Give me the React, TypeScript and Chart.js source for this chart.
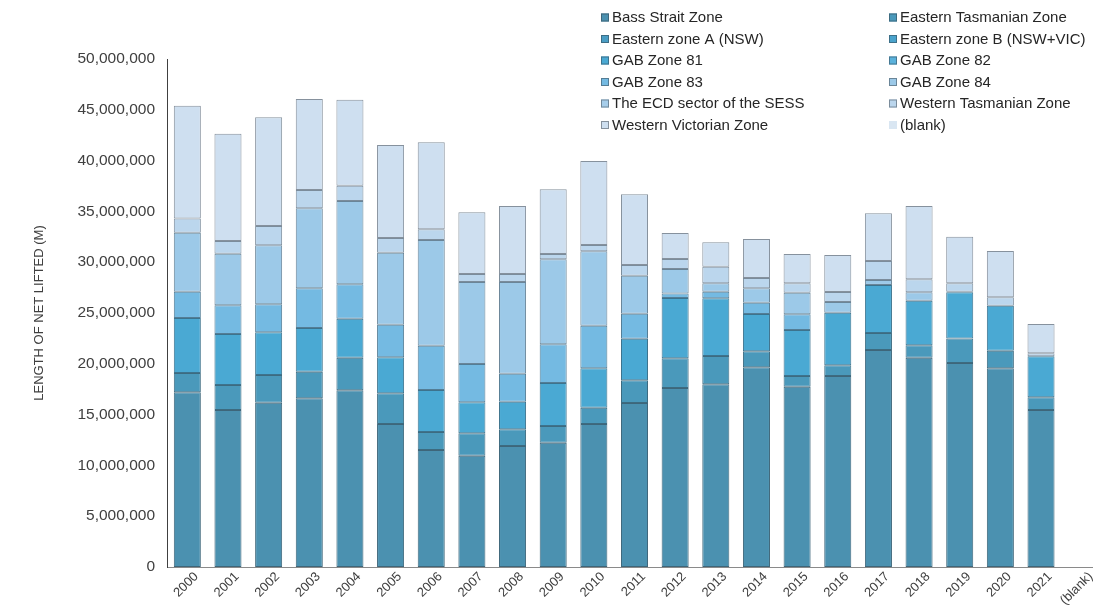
import React, { useEffect, useRef } from "react";
import { Chart, registerables } from "chart.js";

Chart.register(...registerables);

// Fishing years along the category axis
const years = [
  "2000", "2001", "2002", "2003", "2004", "2005", "2006", "2007", "2008", "2009", "2010",
  "2011", "2012", "2013", "2014", "2015", "2016", "2017", "2018", "2019", "2020", "2021", "(blank)",
];

// Length of net lifted (m) per zone and year
const bassStrait = [
  17200000, 15450000, 16170000, 16600000, 17390000, 14070000, 11520000, 10960000, 11910000, 12240000, 14070000,
  16140000, 17620000, 17980000, 19650000, 17750000, 18800000, 21360000, 20600000, 20080000, 19550000, 15450000, null,
];
const easternTasmanian = [
  1900000, 2460000, 2730000, 2620000, 3210000, 3030000, 1770000, 2200000, 1640000, 1640000, 1610000,
  2230000, 2920000, 2790000, 1580000, 1050000, 1050000, 1670000, 1220000, 2420000, 1740000, 1250000, null,
];
const easternZoneA = [
  0, 0, 0, 0, 0, 0, 0, 0, 0, 0, 0, 0, 0, 0, 0, 0, 0, 0, 0, 0, 0, 0, null,
];
const easternZoneB = [
  0, 0, 0, 0, 0, 0, 0, 0, 0, 0, 0, 0, 0, 0, 0, 0, 0, 0, 0, 0, 0, 0, null,
];
const gabZone81 = [
  5400000, 5020000, 4200000, 4300000, 3840000, 3540000, 4130000, 3050000, 2720000, 4230000, 3870000,
  4100000, 5940000, 5670000, 3670000, 4530000, 5180000, 4730000, 4390000, 4540000, 4430000, 4040000, null,
];
const gabZone82 = [
  0, 0, 0, 0, 0, 0, 0, 0, 0, 0, 0, 0, 0, 0, 0, 0, 0, 0, 0, 0, 0, 0, null,
];
const gabZone83 = [
  2600000, 2830000, 2750000, 3910000, 3380000, 3210000, 4360000, 3770000, 2760000, 3810000, 4200000,
  2460000, 450000, 660000, 1120000, 1540000, 0, 0, 0, 0, 0, 0, null,
];
const gabZone84 = [
  5800000, 5080000, 5810000, 7870000, 8200000, 7090000, 10410000, 8070000, 9020000, 8360000, 7320000,
  3740000, 2400000, 820000, 1410000, 2130000, 1050000, 490000, 830000, 60000, 0, 0, null,
];
const ecdSector = [
  0, 0, 0, 0, 0, 0, 0, 0, 0, 0, 0, 0, 0, 0, 0, 0, 0, 0, 0, 0, 0, 0, null,
];
const westernTasmanian = [
  1400000, 1250000, 1900000, 1800000, 1510000, 1440000, 1050000, 790000, 790000, 530000, 620000,
  1050000, 980000, 1640000, 1010000, 920000, 990000, 1870000, 1270000, 820000, 820000, 290000, null,
];
const westernVictorian = [
  11100000, 10560000, 10700000, 8960000, 8470000, 9160000, 8560000, 6070000, 6690000, 6360000, 8270000,
  6960000, 2560000, 2400000, 3840000, 2890000, 3640000, 4690000, 7220000, 4590000, 4560000, 2890000, null,
];
const blankZone = [
  null, null, null, null, null, null, null, null, null, null, null, null,
  null, null, null, null, null, null, null, null, null, null, null,
];

const zoneNames = [
  "Bass Strait Zone",
  "Eastern Tasmanian Zone",
  "Eastern zone A (NSW)",
  "Eastern zone B (NSW+VIC)",
  "GAB Zone 81",
  "GAB Zone 82",
  "GAB Zone 83",
  "GAB Zone 84",
  "The ECD sector of the SESS",
  "Western Tasmanian Zone",
  "Western Victorian Zone",
  "(blank)",
];
const zoneValues = [
  bassStrait, easternTasmanian, easternZoneA, easternZoneB, gabZone81, gabZone82,
  gabZone83, gabZone84, ecdSector, westernTasmanian, westernVictorian, blankZone,
];
const zoneColors = [
  "#4b91b0", "#4a99bb", "#4a9dc4", "#4aa3cc", "#4aa9d3", "#5bb2dc",
  "#74bae2", "#9cc9e8", "#a6cdea", "#bbd6ed", "#cedff0", "#d9e6f2",
];

const FONT = "'Liberation Sans', Arial, sans-serif";

// Outline colour: the fill blended towards a dark slate grey
function edgeOf(hex: string, amount = 0.45): string {
  const n = parseInt(hex.slice(1), 16);
  const rgb = [(n >> 16) & 255, (n >> 8) & 255, n & 255];
  const dark = [45, 50, 55];
  const mixed = rgb.map((c, k) => Math.round(c * (1 - amount) + dark[k] * amount));
  return `rgb(${mixed[0]},${mixed[1]},${mixed[2]})`;
}

// Two-column legend drawn in the top-right corner
const zoneLegend = {
  id: "zoneLegend",
  afterDraw(chart: any) {
    const ctx = chart.ctx as CanvasRenderingContext2D;
    ctx.save();
    ctx.font = `15px ${FONT}`;
    ctx.textBaseline = "middle";
    ctx.textAlign = "left";
    chart.data.datasets.forEach((ds: any, i: number) => {
      const col = i % 2;
      const row = Math.floor(i / 2);
      const x = col === 0 ? 601 : 889;
      const y = 17.5 + row * 21.5;
      ctx.fillStyle = ds.backgroundColor;
      ctx.fillRect(x, y - 4, 8, 8);
      if (ds.label !== "(blank)") {
        ctx.strokeStyle = ds.borderColor;
        ctx.lineWidth = 1;
        ctx.strokeRect(x + 0.5, y - 3.5, 7, 7);
      }
      ctx.fillStyle = "#262626";
      ctx.fillText(ds.label, x + 11, y + 0.5);
    });
    ctx.restore();
  },
};

export default function App() {
  const canvasRef = useRef<HTMLCanvasElement | null>(null);

  useEffect(() => {
    if (!canvasRef.current) return;
    const chart = new Chart(canvasRef.current, {
      type: "bar",
      data: {
        labels: years,
        datasets: zoneNames.map((name, i) => ({
          label: name,
          data: zoneValues[i],
          backgroundColor: zoneColors[i],
          borderColor: edgeOf(zoneColors[i]),
          borderWidth: 1,
          borderSkipped: false,
          barPercentage: 0.665,
          categoryPercentage: 1,
        })),
      },
      options: {
        animation: false,
        responsive: true,
        maintainAspectRatio: false,
        events: [],
        layout: { padding: { top: 59, right: 10, left: 0, bottom: 0 } },
        plugins: {
          legend: { display: false },
          tooltip: { enabled: false },
        },
        scales: {
          x: {
            stacked: true,
            offset: true,
            grid: { display: false, drawTicks: false },
            border: { display: true, color: "#8a8a8a", width: 1 },
            ticks: {
              minRotation: 45,
              maxRotation: 45,
              autoSkip: false,
              padding: 2,
              labelOffset: 9,
              color: "#404040",
              font: { family: FONT, size: 13 },
            },
            afterFit(scale: any) {
              scale.height = 49;
            },
          },
          y: {
            stacked: true,
            min: 0,
            max: 50000000,
            grid: { display: false, drawTicks: false },
            border: { display: true, color: "#404040", width: 1 },
            ticks: {
              stepSize: 5000000,
              padding: 12,
              color: "#404040",
              font: { family: FONT, size: 15.5 },
              callback: (v: any) => Number(v).toLocaleString("en-US"),
            },
            title: {
              display: true,
              text: "LENGTH OF NET LIFTED (M)",
              color: "#404040",
              font: { family: FONT, size: 13 },
              padding: { top: 32, bottom: 0 },
            },
            afterFit(scale: any) {
              scale.width = 167;
            },
          },
        },
      },
      plugins: [zoneLegend],
    });
    return () => chart.destroy();
  }, []);

  return (
    <div
      style={{
        position: "fixed",
        left: 0,
        top: 0,
        width: 1093,
        height: 616,
        overflow: "hidden",
        background: "#ffffff",
      }}
    >
      <div style={{ position: "relative", width: 1112, height: 616 }}>
        <canvas ref={canvasRef} />
      </div>
    </div>
  );
}
